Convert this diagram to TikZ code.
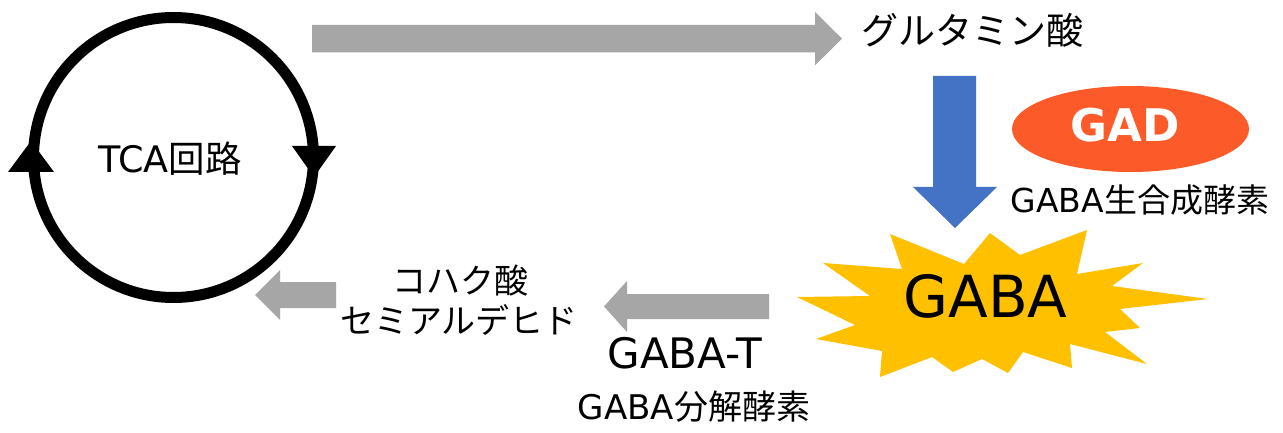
\documentclass[tikz,border=0pt]{standalone}
\usepackage{fontspec}
\usetikzlibrary{shapes.geometric}
\newfontfamily\cjk{Noto Sans CJK JP}
\newfontfamily\lat{DejaVu Sans}
\newcommand\fs[1]{\fontsize{#1}{#1}\selectfont}
\definecolor{arrowgray}{HTML}{A6A6A6}
\definecolor{arrowblue}{HTML}{4472C4}
\definecolor{gadred}{HTML}{FC5A28}
\definecolor{burst}{HTML}{FFC000}
\begin{document}
\begin{tikzpicture}[x=1pt,y=-1pt,
  txt/.style={inner sep=0pt, anchor=base},
  grayarrow/.style={fill=arrowgray},
  bluearrow/.style={fill=arrowblue}]
\useasboundingbox (0,0) rectangle (1283,433);
\fill[white] (0,0) rectangle (1283,433);

% TCA cycle
\node[circle, draw, line width=11pt, minimum size=280pt, inner sep=0pt] (cycle) at (173.5,157.5) {};
\fill (8,172) -- (54,172) -- (31,141) -- cycle;
\fill (292,146) -- (336,146) -- (314,177) -- cycle;
\node[txt] (tca) at (170,172) {\fs{36.5}{\lat TCA}{\cjk 回路}};

% top gray arrow
\fill[grayarrow] (312,25) -- (815,25) -- (815,12) -- (842,38.7) -- (815,65.4) -- (815,52.4) -- (312,52.4) -- cycle;
\node[txt] (glu) at (972,45) {\cjk\fs{37}グルタミン酸};

% blue arrow
\fill[bluearrow] (933,76) -- (976,76) -- (976,187) -- (997,187) -- (955,228) -- (913,187) -- (933,187) -- cycle;

% GAD
\node[ellipse, fill=gadred, minimum width=237pt, minimum height=86pt, inner sep=0pt] (gad) at (1130.5,129) {};
\node[txt, text=white] (gadtext) at (1125.5,142) {\lat\bfseries\fs{45}GAD};
\node[txt] (syn) at (1140,212) {\fs{33}{\lat GABA}{\cjk 生合成酵素}};

% GABA burst
\fill[burst] (890,234) -- (964,264) -- (990,233) -- (1020,255) -- (1087,230) -- (1077,274)
  -- (1143,263) -- (1112,286) -- (1208,299) -- (1120,309) -- (1140,328) -- (1105,332)
  -- (1147,364) -- (1070,344) -- (1072,368) -- (1023,352) -- (1008,373) -- (982,359)
  -- (953,372) -- (932,357) -- (880,377) -- (882,351) -- (816,339) -- (855,325)
  -- (797,297) -- (870,296) -- (823,263) -- (902,269) -- cycle;
\node[txt] (gaba) at (985.5,317) {\lat\fs{58}GABA};

% lower arrows
\fill[grayarrow] (769,294) -- (627,294) -- (627,281) -- (604,306.5) -- (627,332) -- (627,319) -- (769,319) -- cycle;
\fill[grayarrow] (336,282) -- (280,282) -- (280,270) -- (255,295) -- (280,320) -- (280,308) -- (336,308) -- cycle;

\node[txt] (suc1) at (460,293) {\cjk\fs{34}コハク酸};
\node[txt] (suc2) at (459,333) {\cjk\fs{34}セミアルデヒド};
\node[txt] (gabat) at (685,368) {\lat\fs{42}GABA-T};
\node[txt] (deg) at (694,419) {\fs{34}{\lat GABA}{\cjk 分解酵素}};
\end{tikzpicture}
\end{document}
